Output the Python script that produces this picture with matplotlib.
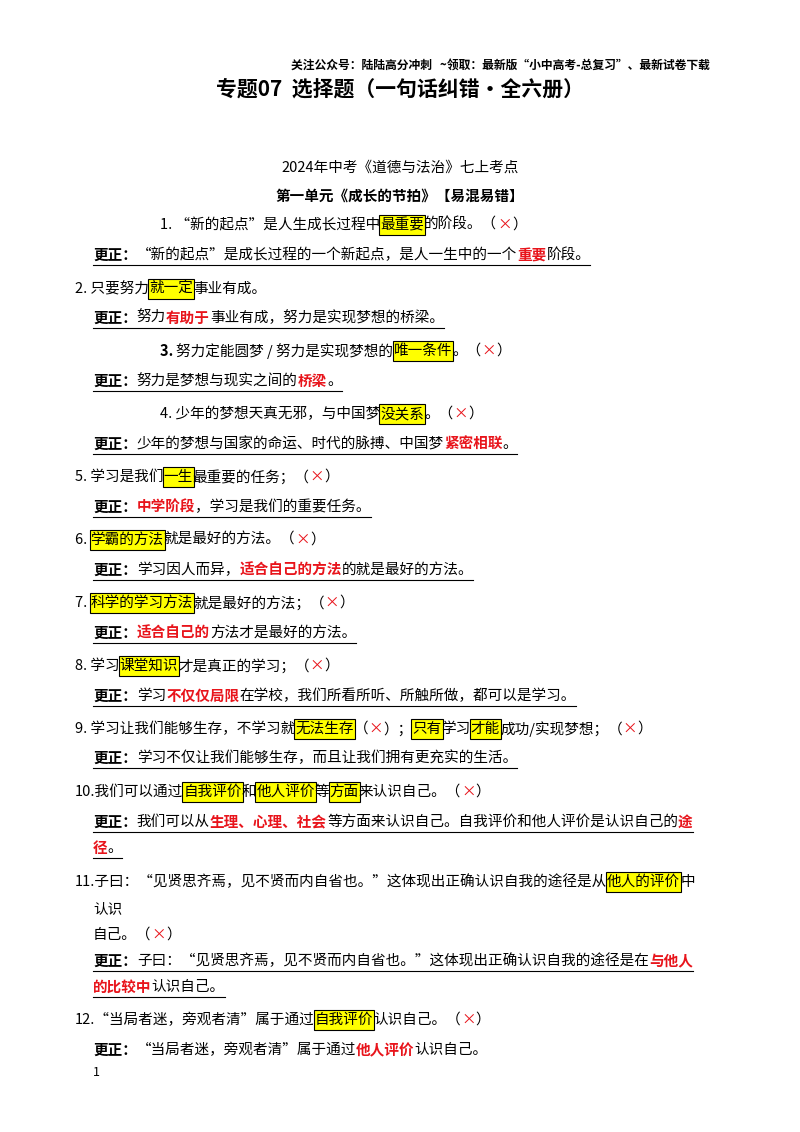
import matplotlib.pyplot as plt
from matplotlib.patches import Rectangle

plt.rcParams['font.family'] = ['Noto Sans CJK SC', 'DejaVu Sans']

W, H = 800, 1132
header = "关注公众号：陆陆高分冲刺   ~领取：最新版“小中高考-总复习”、最新试卷下载"
title = "专题07  选择题（一句话纠错·全六册）"
subtitle1 = "2024年中考《道德与法治》七上考点"
subtitle2 = "第一单元《成长的节拍》【易混易错】"

# each row: (y, x, segments, underline)
# styles: n normal, b bold, r red bold, h highlighted, x red mark
rows = [
    (225, 160, [("1. “新的起点”是人生成长过程中", "n"), ("最重要", "h"), ("的阶段。（", "n"), ("×", "x"), ("）", "n")], False),
    (255, 93, [("更正：", "b"), ("“新的起点”是成长过程的一个新起点，是人一生中的一个", "n"), ("重要", "r"), ("阶段。", "n")], True),
    (289, 75, [("2. 只要努力", "n"), ("就一定", "h"), ("事业有成。", "n")], False),
    (318, 93, [("更正：", "b"), ("努力", "n"), ("有助于", "r"), ("事业有成，努力是实现梦想的桥梁。", "n")], True),
    (351, 160, [("3. ", "b"), ("努力定能圆梦 / 努力是实现梦想的", "n"), ("唯一条件", "h"), ("。（", "n"), ("×", "x"), ("）", "n")], False),
    (381, 93, [("更正：", "b"), ("努力是梦想与现实之间的", "n"), ("桥梁", "r"), ("。", "n")], True),
    (414, 160, [("4. 少年的梦想天真无邪，与中国梦", "n"), ("没关系", "h"), ("。（", "n"), ("×", "x"), ("）", "n")], False),
    (444, 93, [("更正：", "b"), ("少年的梦想与国家的命运、时代的脉搏、中国梦", "n"), ("紧密相联", "r"), ("。", "n")], True),
    (477, 75, [("5. 学习是我们", "n"), ("一生", "h"), ("最重要的任务；（", "n"), ("×", "x"), ("）", "n")], False),
    (507, 93, [("更正：", "b"), ("中学阶段", "r"), ("，学习是我们的重要任务。", "n")], True),
    (540, 75, [("6. ", "n"), ("学霸的方法", "h"), ("就是最好的方法。（", "n"), ("×", "x"), ("）", "n")], False),
    (570, 93, [("更正：", "b"), ("学习因人而异，", "n"), ("适合自己的方法", "r"), ("的就是最好的方法。", "n")], True),
    (603, 75, [("7. ", "n"), ("科学的学习方法", "h"), ("就是最好的方法；（", "n"), ("×", "x"), ("）", "n")], False),
    (633, 93, [("更正：", "b"), ("适合自己的", "r"), ("方法才是最好的方法。", "n")], True),
    (666, 75, [("8. 学习", "n"), ("课堂知识", "h"), ("才是真正的学习；（", "n"), ("×", "x"), ("）", "n")], False),
    (696, 93, [("更正：", "b"), ("学习", "n"), ("不仅仅局限", "r"), ("在学校，我们所看所听、所触所做，都可以是学习。", "n")], True),
    (729, 75, [("9. 学习让我们能够生存，不学习就", "n"), ("无法生存", "h"), ("（", "n"), ("×", "x"), ("）；", "n"), ("只有", "h"), ("学习", "n"), ("才能", "h"), ("成功/实现梦想；（", "n"), ("×", "x"), ("）", "n")], False),
    (758, 93, [("更正：", "b"), ("学习不仅让我们能够生存，而且让我们拥有更充实的生活。", "n")], True),
    (792, 75, [("10.我们可以通过", "n"), ("自我评价", "h"), ("和", "n"), ("他人评价", "h"), ("等", "n"), ("方面", "h"), ("来认识自己。（", "n"), ("×", "x"), ("）", "n")], False),
    (822, 93, [("更正：", "b"), ("我们可以从", "n"), ("生理、心理、社会", "r"), ("等方面来认识自己。自我评价和他人评价是认识自己的", "n"), ("途", "r")], True),
    (848, 93, [("径", "r"), ("。", "n")], True),
    (882, 75, [("11.子曰：“见贤思齐焉，见不贤而内自省也。”这体现出正确认识自我的途径是从", "n"), ("他人的评价", "h"), ("中", "n")], False),
    (909, 93, [("认识", "n")], False),
    (935, 93, [("自己。（", "n"), ("×", "x"), ("）", "n")], False),
    (961, 93, [("更正：", "b"), ("子曰：“见贤思齐焉，见不贤而内自省也。”这体现出正确认识自我的途径是在", "n"), ("与他人", "r")], True),
    (987, 93, [("的比较中", "r"), ("认识自己。", "n")], True),
    (1020, 75, [("12.“当局者迷，旁观者清”属于通过", "n"), ("自我评价", "h"), ("认识自己。（", "n"), ("×", "x"), ("）", "n")], False),
    (1050, 93, [("更正：", "b"), ("“当局者迷，旁观者清”属于通过", "n"), ("他人评价", "r"), ("认识自己。", "n")], False),
]

fig = plt.figure(figsize=(8, 11.32), dpi=100)
fig.patch.set_facecolor('white')
renderer = fig.canvas.get_renderer()


def fx(x):
    return x / W


def fy(y):
    return 1 - y / H


def draw_row(y, x, segs, underline, size=10.5):
    x0 = x
    for txt, st in segs:
        color = '#e8141b' if st in ('r', 'x') else 'black'
        weight = 'bold' if st in ('b', 'r') else 'normal'
        t = fig.text(fx(x), fy(y), txt, fontsize=size, color=color,
                     fontweight=weight, va='center', ha='left')
        w = t.get_window_extent(renderer).width
        if st == 'h':
            fig.patches.append(Rectangle((fx(x - 1), fy(y + 10)), (w + 2) / W, 20 / H,
                                         transform=fig.transFigure, facecolor='#ffff00',
                                         edgecolor='black', lw=0.8, zorder=0))
        x += w
    if underline:
        fig.add_artist(plt.Line2D([fx(x0), fx(x)], [fy(y + 10), fy(y + 10)],
                                  color='black', lw=0.8))


fig.text(fx(710), fy(65), header, fontsize=8.5, fontweight='bold', ha='right', va='center')
fig.text(fx(400), fy(89), title, fontsize=15, fontweight='bold', ha='center', va='center')
fig.text(fx(400), fy(168), subtitle1, fontsize=10.5, ha='center', va='center')
fig.text(fx(400), fy(196), subtitle2, fontsize=10.5, fontweight='bold', ha='center', va='center')

for y, x, segs, ul in rows:
    draw_row(y, x, segs, ul)

fig.text(fx(93), fy(1072), "1", fontsize=9, ha='left', va='center')

fig.savefig('out.png', dpi=100)
